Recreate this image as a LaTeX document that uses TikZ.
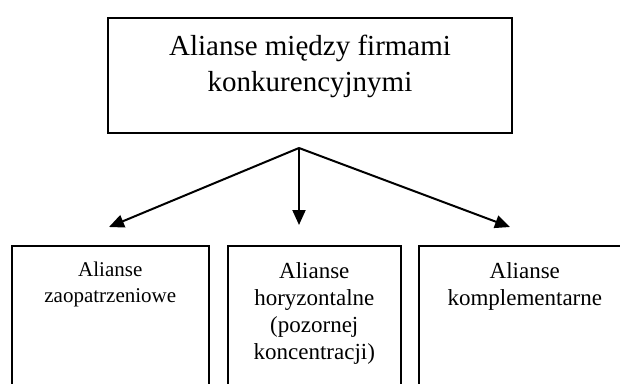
\documentclass[tikz,border=0pt]{standalone}
\usepackage{fontspec}
\setmainfont{Liberation Serif}
\usetikzlibrary{arrows.meta,positioning}

\begin{document}
\begin{tikzpicture}[x=1pt,y=-1pt,
    box/.style={draw, line width=1.6pt, anchor=north west, inner sep=0pt},
    txt/.style={anchor=north, inner sep=0pt, align=center},
    arr/.style={line width=2pt, -{Triangle[length=15pt,width=13pt]}}]
    \useasboundingbox (0,0) rectangle (620,383);
    \clip (0,0) rectangle (620,383);
    % Top box
    \node[box, line width=2pt, minimum width=404pt, minimum height=115.5pt] (top) at (107,16.5) {};
    \node[txt, font=\fontsize{29}{36}\selectfont, below=18.7pt of top.north] (toptxt)
      {Alianse między firmami\\konkurencyjnymi};
    % Bottom boxes (cut off at the lower edge)
    \node[box, minimum width=197pt, minimum height=160pt] (zaop) at (11,245) {};
    \node[box, minimum width=173pt, minimum height=160pt] (horyz) at (227,245) {};
    \node[box, minimum width=212pt, minimum height=160pt] (kompl) at (418,245) {};
    \node[txt, font=\fontsize{21}{26}\selectfont, below=16.7pt of zaop.north] (zaoptxt)
      {Alianse\\zaopatrzeniowe};
    \node[txt, font=\fontsize{23}{27}\selectfont, below=17.3pt of horyz.north] (horyztxt)
      {Alianse\\horyzontalne\\(pozornej\\koncentracji)};
    \node[txt, font=\fontsize{23}{27}\selectfont, below=17.3pt of kompl.north] (kompltxt)
      {Alianse\\komplementarne};
    % Arrows
    \coordinate (split) at (299,148);
    \coordinate (zaoptip) at (109,227);
    \coordinate (horyztip) at (299,225);
    \coordinate (kompltip) at (510,227);
    \draw[arr] (split) -- (zaoptip);
    \draw[arr] (split) -- (horyztip);
    \draw[arr] (split) -- (kompltip);
\end{tikzpicture}
\end{document}
